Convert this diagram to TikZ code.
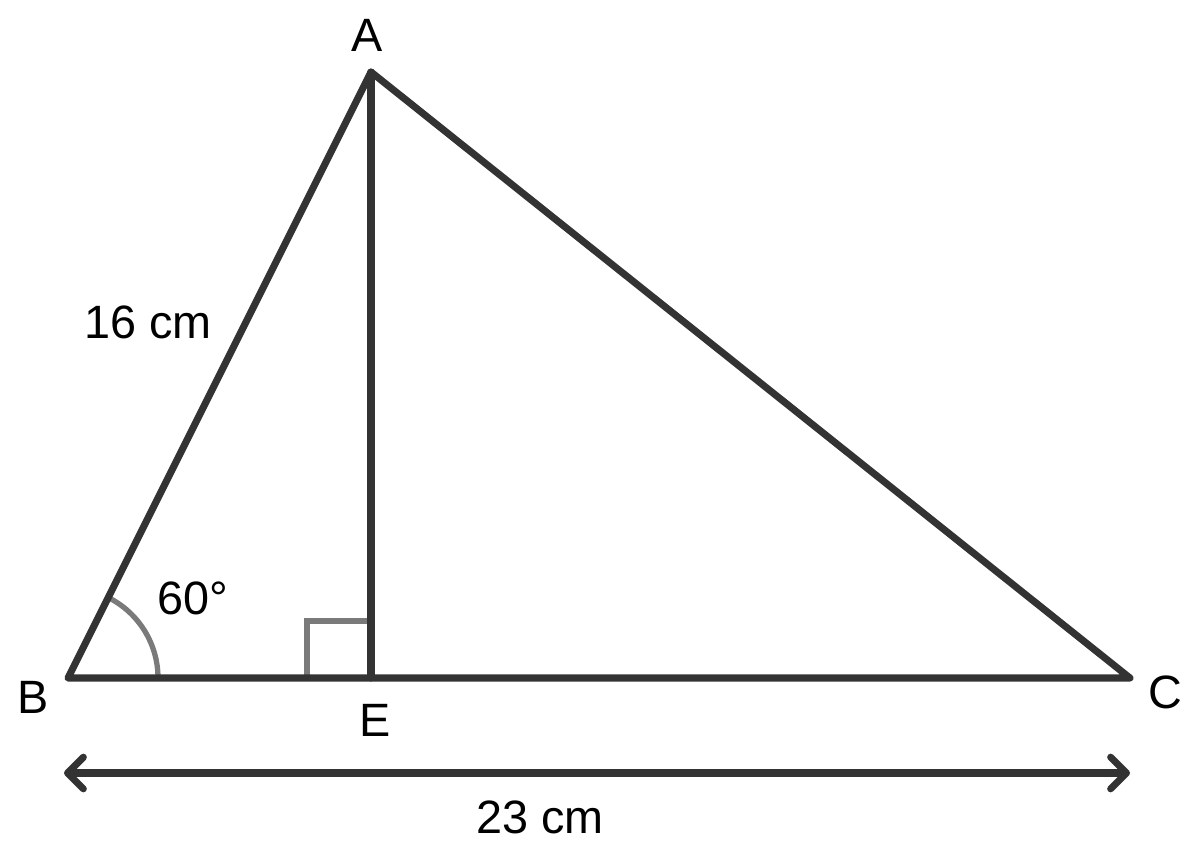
\documentclass[tikz,border=0pt]{standalone}
\usepackage{fontspec}
\setmainfont{Liberation Sans}
\usetikzlibrary{arrows.meta}

\definecolor{edgegray}{HTML}{333333}
\definecolor{markgray}{HTML}{7A7A7A}

\begin{document}
\begin{tikzpicture}[x=0.01cm, y=-0.01cm,
  side/.style={draw=edgegray, line width=2pt, line join=round, line cap=round},
  anglemark/.style={draw=markgray, line width=1.5pt},
  lbl/.style={font=\fontsize{13.3}{16}\selectfont, inner sep=0pt}]
\useasboundingbox (0,0) rectangle (1200,851);

\coordinate (b) at (68, 678);   \coordinate (a) at (371, 72);
\coordinate (e) at (371, 678);  \coordinate (c) at (1130, 678);
\coordinate (l) at (64, 773);   \coordinate (r) at (1130, 773);

% angle and right angle marks
\draw[anglemark] (158, 678) arc[start angle=0, end angle=-63.4, radius=90];
\draw[anglemark] (307, 678) -- (307, 621) -- (371, 621);

\draw[side] (b) -- (a) -- (c) -- cycle;
\draw[side] (a) to (e);
\draw[side, {Straight Barb[length=4.5pt, width=9pt, round]}-{Straight Barb[length=4.5pt, width=9pt, round]}] (l) to (r);

\node[lbl] (na) at (367, 35) {A};
\node[lbl] (nb) at (33, 697) {B};
\node[lbl] (nc) at (1165, 692) {C};
\node[lbl] (ne) at (375, 720) {E};
\node[lbl] (ab) at (148, 322) {16 cm};
\node[lbl] (ang) at (193, 598) {60°};
\node[lbl] (bc) at (540, 817) {23 cm};
\end{tikzpicture}
\end{document}
